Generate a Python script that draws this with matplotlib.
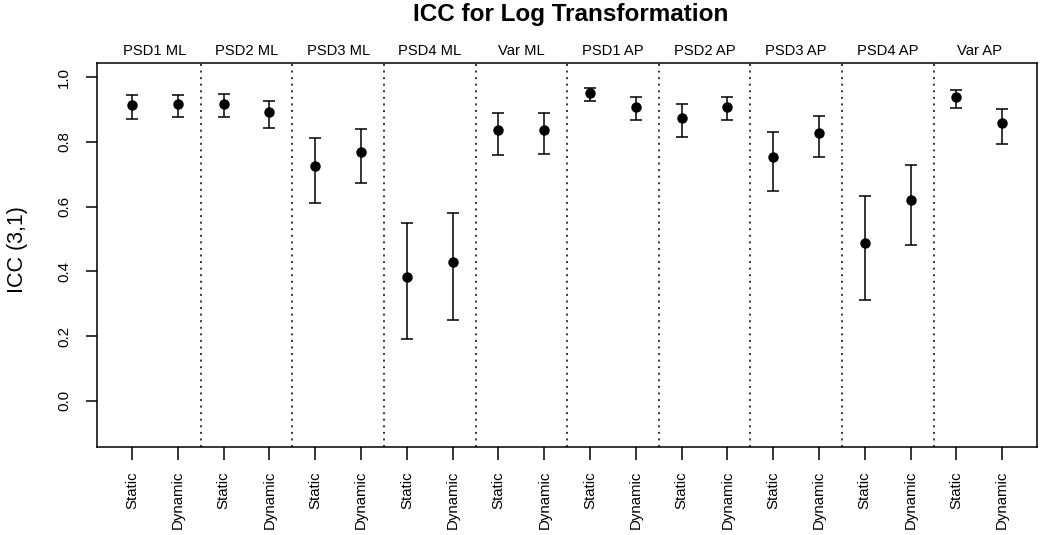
import numpy as np
import matplotlib.pyplot as plt
from matplotlib.transforms import blended_transform_factory

plt.rcParams['font.family'] = ['Liberation Sans', 'DejaVu Sans']

# Data
groups = ['PSD1 ML', 'PSD2 ML', 'PSD3 ML', 'PSD4 ML', 'Var ML',
          'PSD1 AP', 'PSD2 AP', 'PSD3 AP', 'PSD4 AP', 'Var AP']
conditions = ['Static', 'Dynamic']

icc = [0.914, 0.916, 0.918, 0.894, 0.726, 0.769, 0.384, 0.428, 0.836, 0.837,
       0.950, 0.908, 0.875, 0.909, 0.754, 0.827, 0.488, 0.621, 0.938, 0.858]
lower = [0.872, 0.877, 0.878, 0.844, 0.611, 0.674, 0.192, 0.249, 0.760, 0.764,
         0.925, 0.867, 0.814, 0.867, 0.648, 0.752, 0.312, 0.481, 0.906, 0.793]
upper = [0.944, 0.944, 0.947, 0.928, 0.812, 0.841, 0.550, 0.580, 0.890, 0.889,
         0.968, 0.938, 0.916, 0.939, 0.831, 0.880, 0.632, 0.730, 0.959, 0.902]

icc = np.array(icc)
lower = np.array(lower)
upper = np.array(upper)
x = np.arange(1, len(icc) + 1)
tick_labels = conditions * len(groups)

fig = plt.figure(figsize=(10.5, 5.35), dpi=100)
ax = fig.add_axes([97.3 / 1050, 1 - 447.3 / 535, (1037 - 97.3) / 1050, (447.3 - 63) / 535])

ax.errorbar(x, icc, yerr=[icc - lower, upper - icc], fmt='o', color='black',
            ms=6.5, elinewidth=1.1, capsize=4.2, capthick=1.1)

# dotted separators between groups
for k in range(1, len(groups)):
    ax.axvline(2 * k + 0.5, color='black', lw=1.1, linestyle=(0, (1.3, 3)))

# group labels above the box
trans = blended_transform_factory(ax.transData, ax.transAxes)
for k, g in enumerate(groups):
    ax.text(2 * k + 1.5, 1.012, g, transform=trans, ha='center', va='bottom', fontsize=10.6)

ax.set_xlim(0.24, 20.76)
ax.set_ylim(-0.144, 1.044)
ax.set_xticks(x)
ax.set_xticklabels(tick_labels, rotation=90, va='top', fontsize=10.8)
ax.set_yticks([0.0, 0.2, 0.4, 0.6, 0.8, 1.0])
ax.set_yticklabels(['0.0', '0.2', '0.4', '0.6', '0.8', '1.0'], rotation=90, va='center', fontsize=10.8)
ax.tick_params(axis='x', length=9, width=1.1, pad=8)
ax.tick_params(axis='y', length=8, width=1.1, pad=11)
for s in ax.spines.values():
    s.set_linewidth(1.1)

fig.text(18 / 1050, 1 - 250 / 535, 'ICC (3,1)', rotation=90, ha='center', va='center', fontsize=15.5)
fig.text(571 / 1050, 1 - 14.5 / 535, 'ICC for Log Transformation', ha='center', va='center',
         fontsize=17.5, fontweight='bold')

fig.savefig('out.png', dpi=100)
